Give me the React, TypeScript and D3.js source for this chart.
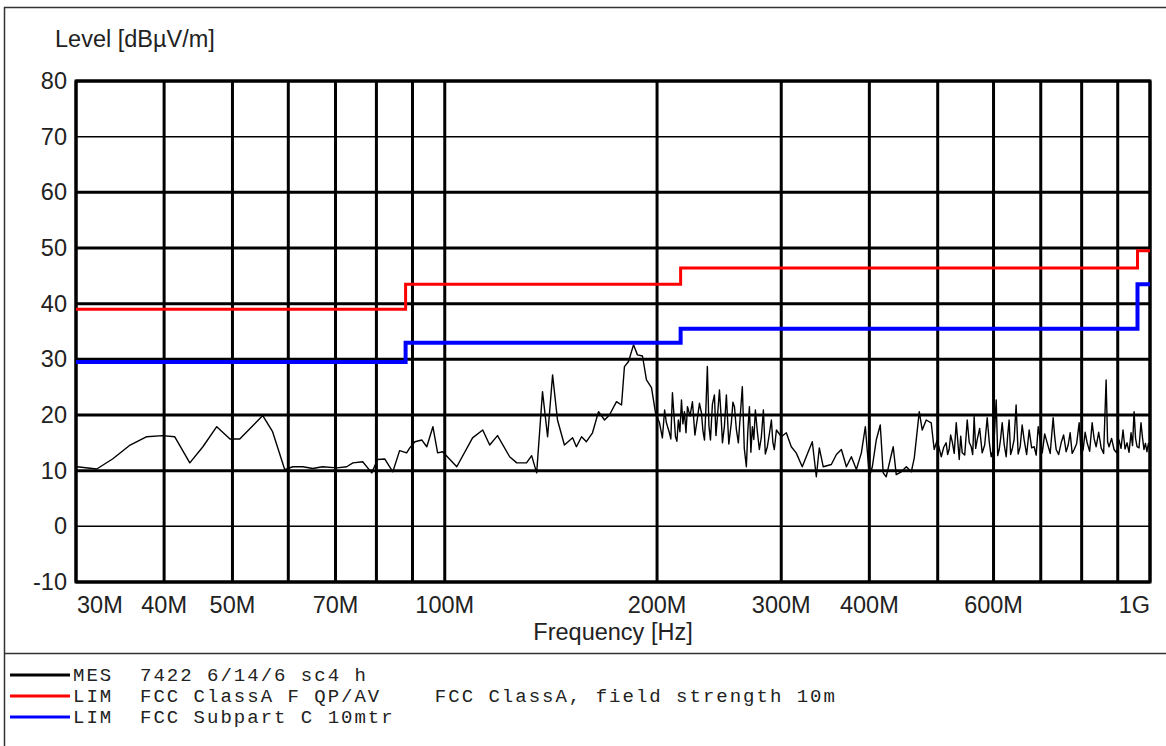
import React from "react";
import * as d3 from "d3";

// ---------- data ----------
const yTicks = [-10, 0, 10, 20, 30, 40, 50, 60, 70, 80];
const thinYTicks = [70, 0];
const gridFreqsMHz = [30, 40, 50, 60, 70, 80, 90, 100, 200, 300, 400, 500, 600, 700, 800, 900, 1000];
const xTickLabels = ["30M", "40M", "50M", "70M", "100M", "200M", "300M", "400M", "600M", "1G"];
const xTickFreqsMHz = [30, 40, 50, 70, 100, 200, 300, 400, 600, 1000];

// FCC Class A limit (red)
const redFreq = [30, 88, 216, 960, 1000];
const redLevel = [39.0, 43.5, 46.4, 49.5, 49.5];
// FCC Subpart C 10 m limit (blue)
const blueFreq = [30, 88, 216, 960, 1000];
const blueLevel = [29.5, 33.0, 35.5, 43.5, 43.5];

// Measured trace (MHz, dBuV/m)
const measFreq = [
  30.1, 32.1, 33.8, 35.8, 37.8, 39.8, 41.4, 43.5, 45.4, 47.5, 49.6, 51.2, 55.2, 57.0, 59.3, 60.9, 62.9, 65.0, 67.1, 70.3, 72.6,
  74.1, 76.5, 78.8, 80.3, 82.2, 84.4, 86.3, 88.3, 89.2, 90.7, 92.8, 94.3, 96.2, 97.7, 99.3, 104.0, 109.5, 113.2, 115.8, 118.8,
  123.6, 126.5, 130.6, 132.8, 135.0, 137.6, 139.9, 142.2, 144.5, 147.8, 151.8, 153.7, 156.3, 158.8, 162.0, 165.2, 168.5, 171.2,
  175.2, 178.1, 179.8, 182.2, 185.2, 187.6, 190.7, 193.2, 196.4, 199.0, 201.6,
  203.5, 205.0, 206.2, 208.2, 209.2, 210.3, 211.4, 212.4, 213.4, 214.4, 215.5, 216.6, 217.6, 218.7, 219.8, 220.9, 222.7, 224.5,
  226.3, 228.2, 229.7, 231.2, 232.3, 233.5, 234.6, 235.7, 236.9, 238.1, 239.6, 241.2, 242.4, 243.6, 245.2, 246.4, 247.6, 249.2,
  250.8, 252.8, 254.9, 256.2, 257.5, 259.1, 260.8, 262.5, 264.2, 265.9, 267.7, 269.0, 270.4, 271.7, 273.0, 274.3, 275.7, 277.5,
  279.3, 281.1, 283.0, 284.8, 286.7, 288.6, 290.5, 291.9, 293.3, 295.3, 300.1, 305.0,
  310.0, 315.0, 321.3, 325.5, 332.0, 336.4, 339.7, 344.1, 353.3, 359.2, 365.1, 371.1, 377.2, 383.4, 389.7, 394.8, 400.0, 403.9,
  409.1, 414.5, 418.5, 422.6, 428.2, 432.4, 436.7, 443.9, 451.3, 458.7, 463.2, 470.8, 475.4, 481.6, 489.5, 494.3, 499.2,
  505.9, 509.9, 514.0, 516.5, 519.0, 521.6, 524.3, 527.7, 531.2, 533.8, 536.4, 539.0, 541.7, 546.1, 550.6, 554.2, 557.8, 560.5,
  563.2, 566.0, 568.7, 573.4, 578.2, 582.9, 587.7, 591.5, 595.4, 600.3, 605.2, 608.2, 611.2, 614.2, 617.2, 621.2, 625.3, 628.3,
  631.3, 634.4, 637.5, 641.7, 645.9, 650.2, 654.5, 658.8, 663.1, 668.5, 674.0, 679.5, 685.1, 689.6, 694.2, 698.8, 703.4, 709.1,
  714.9, 721.9, 728.9, 732.5, 736.1, 742.1, 748.2, 754.3, 760.5, 765.5, 770.5, 775.6, 780.7, 787.1, 793.5, 798.7, 803.9, 809.2,
  814.5, 821.2, 827.9, 833.3, 838.8, 845.7, 852.6, 859.5, 866.5, 870.7, 874.9, 882.1, 889.3, 896.6, 903.9, 909.8, 915.7, 921.7,
  927.8, 933.9, 940.0, 944.6, 949.3, 954.0, 958.6, 964.8, 971.0, 975.7, 980.4, 985.2, 990.1, 995.0, 1000.0,
];
const measLevel = [
  10.7, 10.3, 12.1, 14.6, 16.1, 16.3, 16.1, 11.4, 14.3, 17.9, 15.7, 15.7, 19.9, 17.0, 10.2, 10.7, 10.7, 10.4, 10.7, 10.5, 10.7,
  11.4, 11.6, 9.6, 12.0, 12.1, 9.8, 13.6, 13.2, 14.1, 15.2, 15.5, 14.3, 17.9, 13.2, 13.4, 10.7, 15.9, 17.3, 14.6, 16.3,
  12.5, 11.4, 11.4, 12.7, 9.6, 24.2, 16.1, 27.2, 19.1, 14.6, 15.9, 14.3, 16.1, 15.2, 16.8, 20.6, 19.1, 20.0,
  22.4, 21.8, 28.7, 29.6, 32.6, 30.8, 30.6, 26.3, 24.9, 20.4, 18.6,
  15.9, 20.9, 18.6, 16.8, 15.7, 24.0, 19.8, 16.1, 15.3, 19.1, 17.0, 22.7, 18.4, 20.6, 16.8, 21.5, 19.8, 22.4,
  16.4, 19.5, 22.1, 20.4, 17.2, 15.5, 21.3, 28.7, 18.1, 15.5, 21.9, 23.6, 16.3, 19.7, 24.5, 20.2, 15.0, 18.0,
  23.6, 14.8, 18.6, 22.3, 21.5, 17.4, 15.0, 20.1, 25.1, 14.0, 10.7, 17.2, 21.5, 13.3, 17.9, 15.6, 20.9, 17.0,
  13.8, 16.0, 20.9, 13.0, 14.3, 16.6, 19.1, 15.1, 13.8, 17.3, 16.1, 16.8,
  14.3, 13.2, 10.7, 12.5, 15.2, 8.9, 14.1, 10.7, 11.1, 12.9, 13.8, 10.7, 12.5, 10.2, 13.2, 17.9, 8.9, 10.7,
  15.5, 18.2, 9.6, 8.9, 12.0, 14.3, 9.3, 9.8, 10.7, 9.8, 12.3, 20.6, 17.3, 19.1, 18.6, 13.8, 15.5,
  12.5, 14.2, 15.0, 12.9, 13.8, 16.4, 15.2, 13.1, 18.6, 15.4, 12.0, 16.2, 13.2, 12.8, 19.1, 15.1, 14.3, 12.9,
  19.7, 14.0, 15.5, 17.6, 13.2, 14.6, 19.5, 15.3, 12.5, 14.1, 22.7, 12.7, 13.8, 15.9, 18.6, 14.7, 12.5, 16.3,
  19.1, 12.9, 13.8, 15.6, 21.8, 13.0, 14.3, 18.2, 15.5, 12.9, 17.3, 14.1, 14.3, 12.8, 17.9, 15.6, 13.2, 16.6,
  15.0, 13.1, 19.5, 16.2, 13.8, 12.9, 15.0, 16.4, 13.4, 14.6, 16.8, 13.1, 13.8, 14.9, 18.6, 12.9, 13.8, 16.9,
  15.0, 13.5, 18.6, 15.7, 14.3, 16.9, 14.1, 13.1, 26.3, 15.2, 14.3, 15.8, 13.8, 13.2, 15.5, 14.0, 17.3, 13.9,
  15.0, 13.3, 16.8, 14.5, 20.6, 15.8, 14.3, 14.1, 18.6, 16.0, 13.8, 14.9, 13.4, 14.9, 13.6,
];

const legendRows = [
  { color: "#000000", text: "MES  7422 6/14/6 sc4 h" },
  { color: "#ff0000", text: "LIM  FCC ClassA F QP/AV    FCC ClassA, field strength 10m" },
  { color: "#0000ff", text: "LIM  FCC Subpart C 10mtr" },
];

// ---------- layout ----------
const W = 1166;
const H = 746;
const PL = 76, PR = 1150, PT = 81, PB = 582;
const SANS = "'Liberation Sans', Arial, Helvetica, sans-serif";
const MONO = "'Courier New', 'Liberation Mono', 'DejaVu Sans Mono', monospace";
const FS = 23.5;

export default function App() {
  const x = d3.scaleLog().domain([30e6, 1e9]).range([PL, PR]);
  const y = d3.scaleLinear().domain([-10, 80]).range([PB, PT]);

  const stepLine = d3
    .line<[number, number]>()
    .x((d) => x(d[0] * 1e6))
    .y((d) => y(d[1]))
    .curve(d3.curveStepAfter);
  const trace = d3
    .line<[number, number]>()
    .x((d) => x(d[0] * 1e6))
    .y((d) => y(d[1]));

  const redPts = redFreq.map((f, i) => [f, redLevel[i]] as [number, number]);
  const bluePts = blueFreq.map((f, i) => [f, blueLevel[i]] as [number, number]);
  const measPts = measFreq.map((f, i) => [f, measLevel[i]] as [number, number]);

  return (
    <svg width={W} height={H} style={{ position: "absolute", left: 0, top: 0, background: "#fff" }}>
      <rect x={0} y={0} width={W} height={H} fill="#fff" />
      {/* outer frame */}
      <line x1={4.5} y1={7} x2={4.5} y2={H} stroke="#333" strokeWidth={1.5} />
      <line x1={4} y1={7.5} x2={W} y2={7.5} stroke="#333" strokeWidth={1.5} />
      <line x1={4} y1={653.5} x2={W} y2={653.5} stroke="#333" strokeWidth={1.5} />

      {/* y label */}
      <text x={55} y={47} fontFamily={SANS} fontSize={FS} fill="#222">
        Level [dBµV/m]
      </text>

      {/* horizontal grid */}
      {yTicks.map((v) => (
        <line
          key={"h" + v}
          x1={PL}
          x2={PR}
          y1={y(v)}
          y2={y(v)}
          stroke="#000"
          strokeWidth={thinYTicks.includes(v) ? 1.5 : 3}
        />
      ))}
      {/* vertical grid */}
      {gridFreqsMHz.map((f) => (
        <line key={"v" + f} x1={x(f * 1e6)} x2={x(f * 1e6)} y1={PT} y2={PB} stroke="#000" strokeWidth={3} />
      ))}
      <rect x={PL} y={PT} width={PR - PL} height={PB - PT} fill="none" stroke="#000" strokeWidth={3} />

      {/* y tick labels */}
      {yTicks.map((v) => (
        <text
          key={"yt" + v}
          x={67}
          y={y(v)}
          textAnchor="end"
          dominantBaseline="central"
          fontFamily={SANS}
          fontSize={FS}
          fill="#222"
        >
          {v}
        </text>
      ))}

      {/* x tick labels */}
      {xTickLabels.map((lab, i) => {
        const px = x(xTickFreqsMHz[i] * 1e6);
        const anchor = i === 0 ? "start" : i === xTickLabels.length - 1 ? "end" : "middle";
        return (
          <text
            key={"xt" + lab}
            x={i === 0 ? px + 1 : px}
            y={613}
            textAnchor={anchor}
            fontFamily={SANS}
            fontSize={FS}
            fill="#222"
          >
            {lab}
          </text>
        );
      })}
      <text x={(PL + PR) / 2} y={640} textAnchor="middle" fontFamily={SANS} fontSize={FS} fill="#222">
        Frequency [Hz]
      </text>

      {/* data */}
      <defs>
        <clipPath id="plotClip">
          <rect x={PL} y={PT} width={PR - PL} height={PB - PT} />
        </clipPath>
      </defs>
      <g clipPath="url(#plotClip)">
        <path d={trace(measPts) || ""} fill="none" stroke="#000" strokeWidth={1.4} strokeLinejoin="round" />
        <path d={stepLine(bluePts) || ""} fill="none" stroke="#0000ff" strokeWidth={4} />
        <path d={stepLine(redPts) || ""} fill="none" stroke="#ff0000" strokeWidth={3} />
      </g>

      {/* legend */}
      {legendRows.map((r, i) => {
        const ry = 675 + i * 21;
        return (
          <g key={"lg" + i}>
            <line x1={10} x2={70} y1={ry} y2={ry} stroke={r.color} strokeWidth={3} />
            <text
              x={73}
              y={ry + 6}
              fontFamily={MONO}
              fontSize={19}
              letterSpacing={2}
              fill="#222"
              style={{ whiteSpace: "pre" }}
              xmlSpace="preserve"
            >
              {r.text}
            </text>
          </g>
        );
      })}
    </svg>
  );
}
